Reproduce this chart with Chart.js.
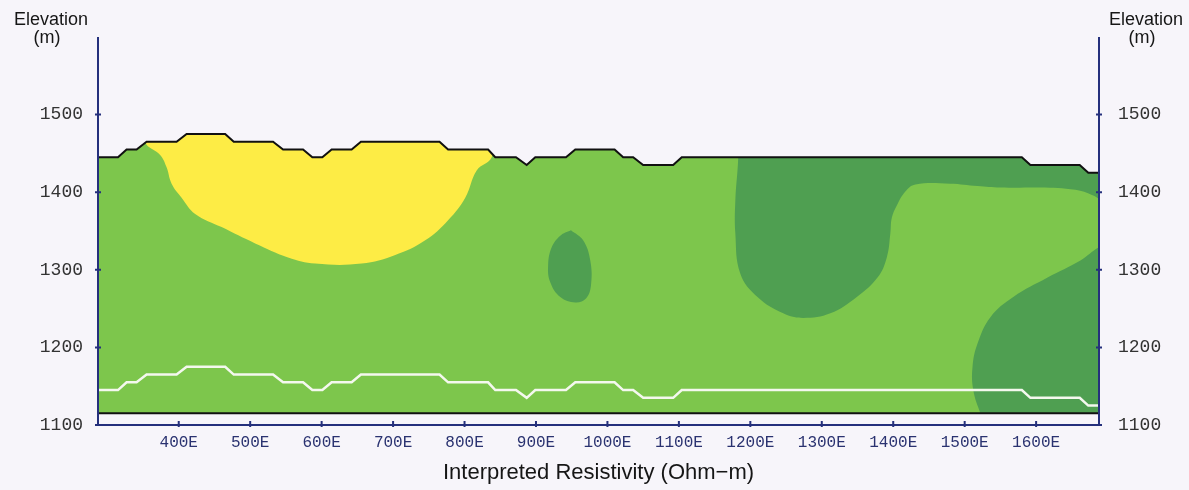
<!DOCTYPE html>
<html>
<head>
<meta charset="utf-8">
<title>Interpreted Resistivity</title>
<script src="https://cdn.jsdelivr.net/npm/chart.js@4.4.1/dist/chart.umd.min.js"></script>
<style>
html, body { margin:0; padding:0; background:#f7f5fa; }
#wrap { position:relative; width:1189px; height:490px; }
</style>
</head>
<body>
<div id="wrap"><canvas id="section"></canvas></div>
<script>
// ======================================
// DATA
// ======================================

// axis ranges and tick labels
const stationMin = 287;
const stationMax = 1688;
const elevMin = 1100;
const elevMax = 1600;
const stationTicks = [400, 500, 600, 700, 800, 900, 1000, 1100, 1200, 1300, 1400, 1500, 1600];
const elevTicks = [1100, 1200, 1300, 1400, 1500];

// ground surface (black line) and depth line (white line)
const stations = [287, 315, 327, 341, 355, 397, 411, 465, 477, 532, 546, 574, 587, 601, 614, 642, 655, 765, 777, 833,
                  843, 872, 887, 899, 942, 955, 1010, 1022, 1036, 1050, 1092, 1104, 1580, 1592, 1661, 1673, 1688];
const surfaceElev = [1445, 1445, 1455, 1455, 1465, 1465, 1475, 1475, 1465, 1465, 1455, 1455, 1445, 1445, 1455, 1455, 1465, 1465, 1455, 1455,
                     1445, 1445, 1435, 1445, 1445, 1455, 1455, 1445, 1445, 1435, 1435, 1445, 1445, 1435, 1435, 1425, 1425];
const depthElev = [1145, 1145, 1155, 1155, 1165, 1165, 1175, 1175, 1165, 1165, 1155, 1155, 1145, 1145, 1155, 1155, 1165, 1165, 1155, 1155,
                   1145, 1145, 1135, 1145, 1145, 1155, 1155, 1145, 1145, 1135, 1135, 1145, 1145, 1135, 1135, 1125, 1125];
const bottomElev = 1115;

// resistivity zones (outlines)
const yellowE    = [345, 353, 374, 383, 390, 404, 423, 460, 507, 553, 591, 656, 703, 745, 777, 801, 817, 838, 850, 600];
const yellowElev = [1500, 1464, 1448, 1432, 1411, 1393, 1372, 1355, 1334, 1316, 1308, 1308, 1319, 1338, 1364, 1393, 1428, 1445, 1500, 1520];

const darkMidE    = [1183, 1183, 1179, 1179, 1186, 1210, 1246, 1274, 1312, 1349, 1378, 1391, 1396, 1398, 1405, 1417, 1431, 1480, 1518, 1550, 1606, 1655, 1679, 1697, 1710, 1710];
const darkMidElev = [1480, 1443, 1389, 1347, 1295, 1265, 1244, 1238, 1244, 1265, 1290, 1316, 1347, 1367, 1383, 1401, 1410, 1411, 1408, 1406, 1406, 1403, 1396, 1387, 1387, 1480];

const darkSmallE    = [949, 966, 976, 977, 970, 955, 934, 920, 917, 922, 934, 949];
const darkSmallElev = [1351, 1338, 1312, 1280, 1263, 1258, 1265, 1284, 1306, 1329, 1344, 1351];

const darkRightE    = [1697, 1688, 1662, 1616, 1568, 1536, 1518, 1511, 1512, 1522, 1529, 1710, 1710];
const darkRightElev = [1329, 1329, 1312, 1290, 1265, 1239, 1205, 1175, 1145, 1115, 1100, 1100, 1329];

// ======================================
// COLOURS
// ======================================

const bgColor = "#f7f5fa";
const axisColor = "#25307c";
const yellow = "#fdec45";
const lightGreen = "#7dc64c";
const darkGreen = "#4f9f51";

function pts(xs, ys){
    return xs.map(function(x, i){ return {x:x, y:ys[i]}; });
}

let surface = pts(stations, surfaceElev);
let last = stations.length - 1;

let basePoly = surface.concat([
    {x:stations[last], y:bottomElev},
    {x:stations[0], y:bottomElev}
]);

let skyMask = surface.concat([
    {x:stationMax + 20, y:surfaceElev[last]},
    {x:stationMax + 20, y:elevMax + 20},
    {x:stationMin - 20, y:elevMax + 20},
    {x:stationMin - 20, y:surfaceElev[0]}
]);

let bottomMask = [
    {x:stationMin - 20, y:bottomElev},
    {x:stationMax + 20, y:bottomElev},
    {x:stationMax + 20, y:elevMin - 20},
    {x:stationMin - 20, y:elevMin - 20}
];

function zone(points, color, order, tension){
    return {
        data:points, fill:"shape", backgroundColor:color, borderWidth:0,
        pointRadius:0, tension:tension, order:order
    };
}

function line(points, color, width, order){
    return {
        data:points, fill:false, borderColor:color, borderWidth:width,
        pointRadius:0, tension:0, order:order
    };
}

// ======================================
// PLUGINS: axes, tick marks, elevation labels
// ======================================

const axesAndLabels = {
    id:"axesAndLabels",
    afterDraw(chart){
        const ctx = chart.ctx;
        const a = chart.chartArea;
        ctx.save();
        ctx.strokeStyle = axisColor;
        ctx.lineWidth = 2;
        ctx.beginPath();
        ctx.moveTo(a.left, a.top);
        ctx.lineTo(a.left, a.bottom);
        ctx.lineTo(a.right, a.bottom);
        ctx.moveTo(a.right, a.top);
        ctx.lineTo(a.right, a.bottom);

        chart.scales.x.ticks.forEach(function(t){
            const px = chart.scales.x.getPixelForValue(t.value);
            ctx.moveTo(px, a.bottom - 4);
            ctx.lineTo(px, a.bottom + 2);
        });
        chart.scales.y.ticks.forEach(function(t){
            const py = chart.scales.y.getPixelForValue(t.value);
            ctx.moveTo(a.left - 3, py);
            ctx.lineTo(a.left + 3, py);
            ctx.moveTo(a.right - 3, py);
            ctx.lineTo(a.right + 3, py);
        });
        ctx.stroke();

        ctx.fillStyle = "#161616";
        ctx.font = '18px "Liberation Sans", Arial, sans-serif';
        ctx.textAlign = "center";
        ctx.textBaseline = "alphabetic";
        ctx.fillText("Elevation", 51, 25);
        ctx.fillText("(m)", 47, 43);
        ctx.fillText("Elevation", 1146, 25);
        ctx.fillText("(m)", 1142, 43);
        ctx.restore();
    }
};

// ======================================
// CHART
// ======================================

const monoFont = '"Liberation Mono", "DejaVu Sans Mono", monospace';

new Chart(document.getElementById("section"), {

    type:"line",

    data:{
        datasets:[
            zone(basePoly, lightGreen, 10, 0),
            zone(pts(yellowE, yellowElev), yellow, 9, 0.4),
            zone(pts(darkMidE, darkMidElev), darkGreen, 8, 0.4),
            zone(pts(darkSmallE, darkSmallElev), darkGreen, 7, 0.4),
            zone(pts(darkRightE, darkRightElev), darkGreen, 6, 0.4),
            zone(skyMask, bgColor, 5, 0),
            zone(bottomMask, bgColor, 4, 0),
            line(pts(stations, depthElev), "#f4f8ee", 2.5, 3),
            line([{x:stationMin, y:bottomElev}, {x:stationMax, y:bottomElev}], "#111111", 2, 2),
            line(surface, "#111111", 2, 1)
        ]
    },

    options:{
        responsive:true,
        maintainAspectRatio:false,
        animation:false,
        events:[],
        layout:{ padding:{ top:37, left:0, right:0, bottom:0 } },
        plugins:{
            legend:{ display:false },
            tooltip:{ enabled:false }
        },
        scales:{
            x:{
                type:"linear",
                position:"bottom",
                min:stationMin,
                max:stationMax,
                afterBuildTicks:function(s){ s.ticks = stationTicks.map(function(v){ return {value:v}; }); },
                afterFit:function(s){ s.height = 65; },
                ticks:{
                    autoSkip:false,
                    maxRotation:0,
                    padding:8,
                    color:"#2a3270",
                    font:{ family:monoFont, size:16 },
                    callback:function(v){ return v + "E"; }
                },
                grid:{ drawOnChartArea:false, drawTicks:false },
                border:{ display:false },
                title:{
                    display:true,
                    text:"Interpreted Resistivity (Ohm\u2212m)",
                    color:"#161616",
                    font:{ family:'"Liberation Sans", Arial, sans-serif', size:22 },
                    padding:{ top:0, bottom:4 }
                }
            },
            y:{
                type:"linear",
                position:"left",
                min:elevMin,
                max:elevMax,
                afterBuildTicks:function(s){ s.ticks = elevTicks.map(function(v){ return {value:v}; }); },
                afterFit:function(s){ s.width = 98; },
                ticks:{ padding:15, color:"#333333", font:{ family:monoFont, size:18 },
                        callback:function(v){ return String(v); } },
                grid:{ drawOnChartArea:false, drawTicks:false },
                border:{ display:false }
            },
            y2:{
                type:"linear",
                position:"right",
                display:true,
                min:elevMin,
                max:elevMax,
                afterBuildTicks:function(s){ s.ticks = elevTicks.map(function(v){ return {value:v}; }); },
                afterFit:function(s){ s.width = 90; },
                ticks:{ padding:19, color:"#333333", font:{ family:monoFont, size:18 },
                        callback:function(v){ return String(v); } },
                grid:{ drawOnChartArea:false, drawTicks:false },
                border:{ display:false }
            }
        }
    },

    plugins:[axesAndLabels]

});
</script>
</body>
</html>
